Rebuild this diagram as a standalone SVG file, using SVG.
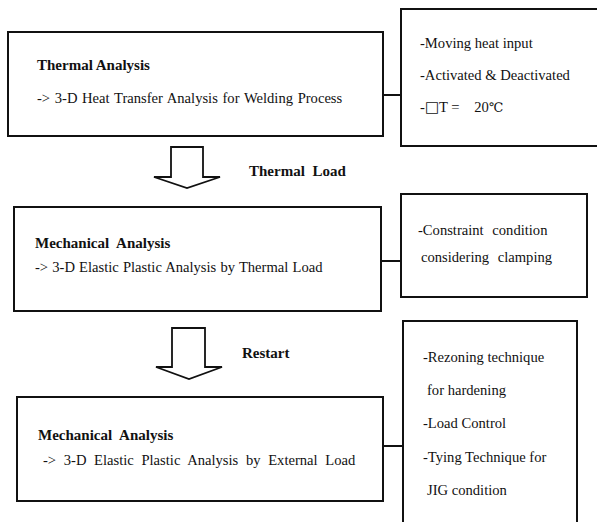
<svg xmlns="http://www.w3.org/2000/svg" width="597" height="522" viewBox="0 0 597 522">
<style>
.box{fill:#fff;stroke:#111;stroke-width:2}
.ln{stroke:#111;stroke-width:2;fill:none}
.arr{fill:#fff;stroke:#111;stroke-width:1.8;stroke-linejoin:miter}
text{font-family:"Liberation Serif","Times New Roman","Noto Sans CJK SC",serif;font-size:14.6px;fill:#111}
.b{font-weight:bold;font-size:15px}
.sq{font-family:"DejaVu Sans",sans-serif;font-size:15px}
.dg{font-family:"DejaVu Serif",serif;font-size:13px}
</style>
<rect width="597" height="522" fill="#fff"/>
<g id="connectors">
<line class="ln" x1="383" y1="95" x2="401" y2="95"/>
<line class="ln" x1="381" y1="261" x2="401" y2="261"/>
<line class="ln" x1="383" y1="446" x2="403" y2="446"/>
<polygon class="arr" points="171,147 203,147 203,177 220,177 187,188 154,177 171,177"/>
<polygon class="arr" points="172,328 205,328 205,367 222,367 189,379 156,367 172,367"/>
<text class="b" x="249" y="176" word-spacing="4">Thermal Load</text>
<text class="b" x="242" y="358">Restart</text>
</g>
<g id="thermal">
<rect class="box" x="8" y="32" width="375" height="104"/>
<text class="b" x="37" y="70">Thermal Analysis</text>
<text x="37" y="103" word-spacing="1">-&gt; 3-D Heat Transfer Analysis for Welding Process</text>
</g>
<g id="thermal-notes">
<rect class="box" x="401" y="9" width="200" height="137"/>
<text x="420" y="48">-Moving heat input</text>
<text x="420" y="80">-Activated &amp; Deactivated</text>
<text x="420" y="112" xml:space="preserve">-<tspan class="sq">□</tspan>T =    20<tspan class="dg">℃</tspan></text>
</g>
<g id="mech1">
<rect class="box" x="14" y="207" width="367" height="104"/>
<text class="b" x="35" y="248" word-spacing="4">Mechanical Analysis</text>
<text x="35" y="272" word-spacing="0.5">-&gt; 3-D Elastic Plastic Analysis by Thermal Load</text>
</g>
<g id="mech1-notes">
<rect class="box" x="401" y="194" width="186" height="103"/>
<text x="418" y="235" word-spacing="5">-Constraint condition</text>
<text x="421" y="262" word-spacing="5">considering clamping</text>
</g>
<g id="mech2">
<rect class="box" x="17" y="397" width="366" height="104"/>
<text class="b" x="38" y="440" word-spacing="4">Mechanical Analysis</text>
<text x="43" y="465" word-spacing="4">-&gt; 3-D Elastic Plastic Analysis by External Load</text>
</g>
<g id="mech2-notes">
<rect class="box" x="403" y="321" width="174" height="210"/>
<text x="423" y="362">-Rezoning technique</text>
<text x="427" y="395">for hardening</text>
<text x="423" y="428">-Load Control</text>
<text x="423" y="462">-Tying Technique for</text>
<text x="427" y="495">JIG condition</text>
</g>
</svg>
